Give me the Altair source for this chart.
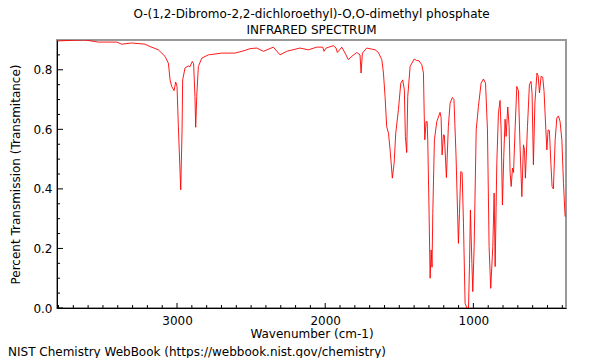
import altair as alt
import pandas as pd

wavenumber = [3805, 3700, 3621, 3531, 3407, 3373, 3306, 3216, 3182, 3126, 3081, 3058, 3047, 3036, 3020,
              3009, 3000, 2991, 2975, 2966, 2962, 2946, 2924, 2913, 2897, 2888, 2879, 2874, 2867, 2856,
              2833, 2789, 2699, 2609, 2541, 2507, 2462, 2417, 2350, 2305, 2260, 2170, 2114, 2057, 2017,
              2008, 1994, 1945, 1927, 1918, 1888, 1866, 1844, 1821, 1787, 1765, 1758, 1749, 1720, 1663,
              1641, 1618, 1607, 1596, 1585, 1573, 1562, 1547, 1535, 1524, 1506, 1490, 1477, 1466, 1459,
              1450, 1443, 1427, 1400, 1382, 1367, 1348, 1337, 1332, 1328, 1319, 1312, 1308, 1299, 1292,
              1285, 1279, 1274, 1263, 1247, 1225, 1218, 1211, 1202, 1196, 1182, 1169, 1157, 1142, 1131,
              1117, 1101, 1094, 1085, 1076, 1067, 1056, 1044, 1033, 1026, 1020, 1010, 1004, 995, 981,
              966, 948, 932, 918, 905, 894, 883, 869, 860, 853, 842, 831, 820, 813, 804,
              795, 786, 779, 768, 759, 752, 745, 736, 729, 718, 707, 696, 685, 673, 662,
              655, 649, 635, 622, 611, 604, 595, 585, 571, 563, 554, 543, 532, 523, 511,
              504, 496, 487, 477, 469, 460, 448, 437, 426, 415, 403, 392, 381]
transmittance = [0.897, 0.899, 0.900, 0.893, 0.893, 0.886, 0.890, 0.886, 0.878, 0.867, 0.845, 0.822, 0.766, 0.744, 0.730,
                 0.759, 0.744, 0.609, 0.397, 0.598, 0.766, 0.806, 0.813, 0.810, 0.828, 0.820, 0.710, 0.607, 0.710, 0.811,
                 0.839, 0.850, 0.856, 0.856, 0.865, 0.871, 0.873, 0.862, 0.876, 0.850, 0.862, 0.873, 0.867, 0.876, 0.876,
                 0.862, 0.873, 0.881, 0.873, 0.858, 0.876, 0.856, 0.834, 0.845, 0.858, 0.850, 0.789, 0.856, 0.873, 0.867,
                 0.858, 0.834, 0.789, 0.710, 0.609, 0.587, 0.531, 0.436, 0.486, 0.587, 0.666, 0.755, 0.766, 0.733, 0.576,
                 0.522, 0.710, 0.811, 0.836, 0.831, 0.830, 0.817, 0.789, 0.654, 0.565, 0.626, 0.626, 0.565, 0.318, 0.100,
                 0.195, 0.137, 0.318, 0.565, 0.626, 0.657, 0.640, 0.514, 0.582, 0.580, 0.438, 0.609, 0.688, 0.707, 0.700,
                 0.509, 0.217, 0.318, 0.458, 0.455, 0.285, 0.016, 0.000, 0.000, 0.150, 0.329, 0.150, 0.055, 0.206, 0.598,
                 0.677, 0.755, 0.769, 0.755, 0.598, 0.206, 0.066, 0.206, 0.386, 0.139, 0.486, 0.654, 0.697, 0.598, 0.346,
                 0.509, 0.634, 0.576, 0.675, 0.610, 0.453, 0.408, 0.470, 0.455, 0.609, 0.744, 0.730, 0.542, 0.374, 0.548,
                 0.530, 0.436, 0.609, 0.750, 0.761, 0.720, 0.481, 0.688, 0.789, 0.780, 0.722, 0.778, 0.775, 0.727, 0.598,
                 0.531, 0.598, 0.596, 0.486, 0.408, 0.400, 0.565, 0.638, 0.645, 0.626, 0.565, 0.419, 0.307]

x_major_ticks = [1000, 2000, 3000]
x_minor_ticks = [400, 500, 600, 700, 800, 900, 1100, 1200, 1300, 1400, 1500, 1600, 1700, 1800, 1900,
                 2100, 2200, 2300, 2400, 2500, 2600, 2700, 2800, 2900, 3100, 3200, 3300, 3400, 3500,
                 3600, 3700, 3800]
y_major_ticks = [0.0, 0.2, 0.4, 0.6, 0.8]
y_minor_ticks = [0.05, 0.1, 0.15, 0.25, 0.3, 0.35, 0.45, 0.5, 0.55, 0.65, 0.7, 0.75, 0.85]

title_lines = ["O-(1,2-Dibromo-2,2-dichloroethyl)-O,O-dimethyl phosphate", "INFRARED SPECTRUM"]
footer = "NIST Chemistry WebBook (https://webbook.nist.gov/chemistry)"

W, H = 509, 268
FONT = "DejaVu Sans"

xscale = alt.Scale(domain=[375, 3810], reverse=True, nice=False, zero=False)
yscale = alt.Scale(domain=[0, 0.9], nice=False, zero=False)

xaxis = alt.Axis(values=x_major_ticks, format="d", title="Wavenumber (cm-1)",
                 tickSize=0, labelPadding=7, titlePadding=2, grid=False,
                 domainColor="black", labelColor="black", titleColor="black",
                 labelFont=FONT, titleFont=FONT, labelFontSize=12, titleFontSize=12,
                 titleFontWeight="normal")
yaxis = alt.Axis(values=y_major_ticks, format=".1f", title="Percent Transmission (Transmitance)",
                 tickSize=0, labelPadding=5, titlePadding=10, grid=False,
                 domainColor="black", labelColor="black", titleColor="black",
                 labelFont=FONT, titleFont=FONT, labelFontSize=12, titleFontSize=12,
                 titleFontWeight="normal")

spec = pd.DataFrame({"wn": wavenumber, "t": transmittance})

line = alt.Chart(spec).mark_line(color="#ff0000", strokeWidth=0.9, clip=True).encode(
    x=alt.X("wn:Q", scale=xscale, axis=xaxis, title="Wavenumber (cm-1)"),
    y=alt.Y("t:Q", scale=yscale, axis=yaxis, title="Percent Transmission (Transmitance)"),
)

xmaj = alt.Chart(pd.DataFrame({"wn": x_major_ticks})).mark_rule(color="black", strokeWidth=1).encode(
    x=alt.X("wn:Q", scale=xscale, axis=xaxis, title="Wavenumber (cm-1)"),
    y=alt.value(H), y2=alt.value(H - 5))
xmin = alt.Chart(pd.DataFrame({"wn": x_minor_ticks})).mark_rule(color="black", strokeWidth=1).encode(
    x=alt.X("wn:Q", scale=xscale, axis=xaxis, title="Wavenumber (cm-1)"),
    y=alt.value(H), y2=alt.value(H - 3))
ymaj = alt.Chart(pd.DataFrame({"t": y_major_ticks})).mark_rule(color="black", strokeWidth=1).encode(
    y=alt.Y("t:Q", scale=yscale, axis=yaxis, title="Percent Transmission (Transmitance)"),
    x=alt.value(0), x2=alt.value(6))
ymin = alt.Chart(pd.DataFrame({"t": y_minor_ticks})).mark_rule(color="black", strokeWidth=1).encode(
    y=alt.Y("t:Q", scale=yscale, axis=yaxis, title="Percent Transmission (Transmitance)"),
    x=alt.value(0), x2=alt.value(3))

foot = alt.Chart(pd.DataFrame({"txt": [footer]})).mark_text(
    align="left", baseline="middle", font=FONT, fontSize=12, color="black").encode(
    text="txt:N", x=alt.value(-49), y=alt.value(312))

chart = alt.layer(line, xmin, xmaj, ymin, ymaj, foot).properties(
    width=W, height=H,
    title=alt.TitleParams(title_lines, font=FONT, fontSize=12, fontWeight="normal",
                          lineHeight=16, offset=3, anchor="middle", color="black"),
    autosize=alt.AutoSizeParams(type="none"),
    padding={"left": 49, "top": 32, "right": 20, "bottom": 50},
).configure_view(stroke="#999999", strokeWidth=2)

chart.save("out.html", embed_options={"renderer": "svg", "actions": False})
